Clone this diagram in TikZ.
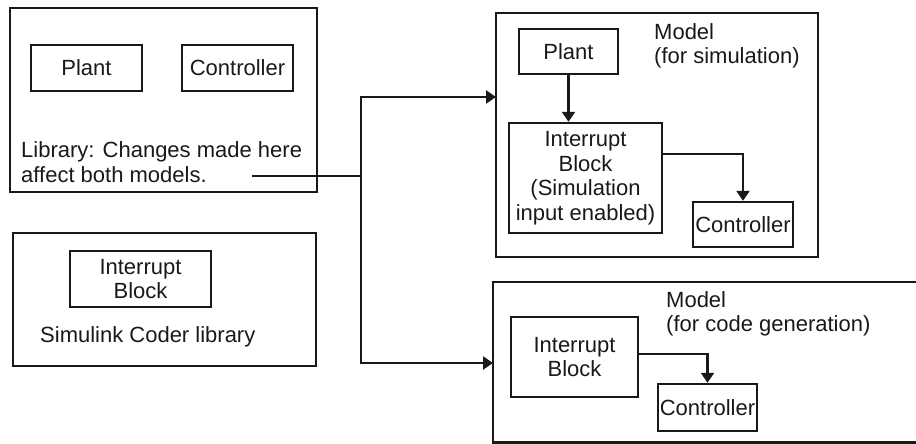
\documentclass[tikz,border=0pt]{standalone}
\usepackage{fontspec}
\setmainfont{Liberation Sans}
\usepackage{tikz}
\usetikzlibrary{arrows.meta,positioning,calc}

\begin{document}
\begin{tikzpicture}[
    x=1pt, y=-1pt,
    every node/.style={font=\fontsize{22}{24.5}\selectfont, text=black!90},
    frame/.style={draw=black!90, line width=2.6pt, inner sep=0pt},
    block/.style={draw=black!90, line width=2.4pt, inner sep=0pt, align=center},
    label/.style={anchor=west, align=left, inner sep=0pt},
    arrow/.style={-{Triangle[length=10pt,width=13pt]}, line width=2.4pt, draw=black!90},
    link/.style={line width=2.4pt, draw=black!90}
  ]
    \useasboundingbox (0,0) rectangle (916,444);

    % Library
    \node[frame, minimum width=307pt, minimum height=184pt] (lib) at (163.5,100) {};
    \node[block, minimum width=111pt, minimum height=46pt] (libplant) at (86.5,68) {Plant};
    \node[block, minimum width=111pt, minimum height=46pt] (libctrl) at (237.5,68) {Controller};
    \node[label] (libtext) at (21,162) {Library: Changes made here\\affect both models.};

    % Simulink Coder library
    \node[frame, minimum width=303pt, minimum height=133pt] (coder) at (164.5,299.5) {};
    \node[block, minimum width=141pt, minimum height=56pt] (coderintr) at (140.5,279) {Interrupt\\Block};
    \node[label] (codertext) at (40,337) {Simulink Coder library};

    % Model for simulation
    \node[frame, minimum width=322pt, minimum height=244pt] (simmodel) at (657,135) {};
    \node[label] (simtext) at (654,46) {Model\\(for simulation)};
    \node[block, minimum width=99pt, minimum height=45pt] (simplant) at (568.5,51.5) {Plant};
    \node[block, minimum width=153pt, minimum height=110pt] (simintr) at (585.5,178)
      {Interrupt\\Block\\(Simulation\\input enabled)};
    \node[block, minimum width=100pt, minimum height=45pt] (simctrl) at (743,224.5) {Controller};

    % Model for code generation
    \node[frame, minimum width=427pt, minimum height=160.5pt] (codemodel) at (706.5,362.25) {};
    \node[label] (codetext) at (666,314) {Model\\(for code generation)};
    \node[block, minimum width=127pt, minimum height=80pt] (codeintr) at (574.5,357) {Interrupt\\Block};
    \node[block, minimum width=99pt, minimum height=47pt] (codectrl) at (707.5,407.5) {Controller};

    % Links
    \coordinate (libout) at (252,176);
    \coordinate (split) at (361,176);
    \coordinate (simin) at (496,97);
    \coordinate (codein) at (493,363);
    \draw[link] (libout) -- (split);
    \draw[arrow] (split) |- (simin);
    \draw[arrow] (split) |- (codein);

    % Arrows
    \draw[arrow] (simplant.south) -- (simplant.south |- simintr.north);
    \draw[arrow] ([yshift=24pt]simintr.east) -| (simctrl.north);
    \draw[arrow] ([yshift=3pt]codeintr.east) -| (codectrl.north);
  \end{tikzpicture}
\end{document}
